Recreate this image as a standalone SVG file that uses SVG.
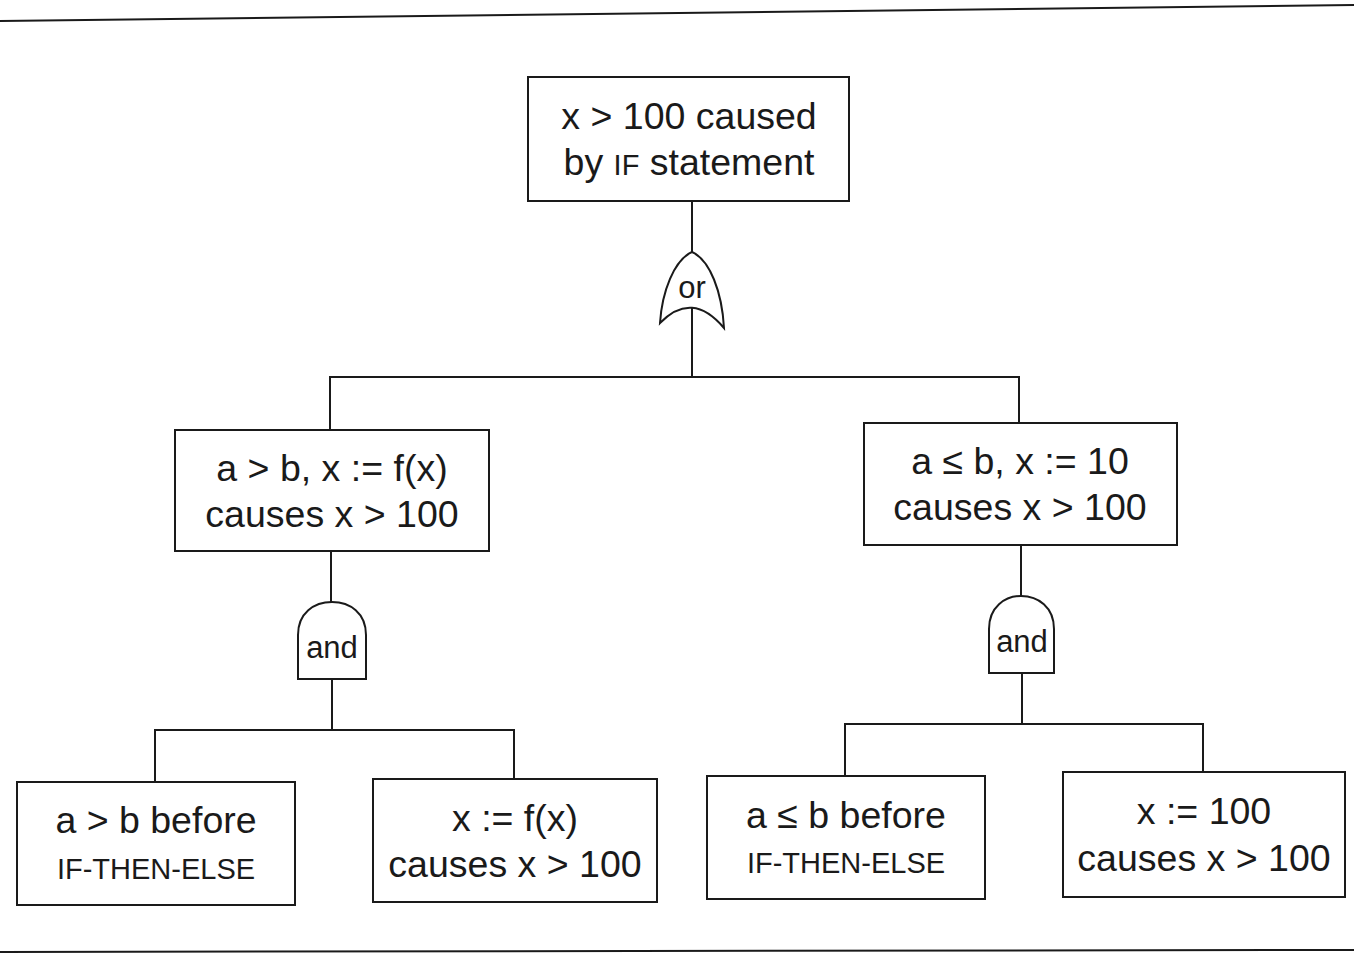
<svg xmlns="http://www.w3.org/2000/svg" width="1354" height="954" viewBox="0 0 1354 954">
<style>
.box{fill:#fff;stroke:#1a1a1a;stroke-width:2}
.gate{fill:#fff;stroke:#1a1a1a;stroke-width:2}
.ln{fill:none;stroke:#1a1a1a;stroke-width:2}
text{font-family:"Liberation Sans",Arial,sans-serif;fill:#1a1a1a;text-anchor:middle}
.t{font-size:37.5px}
.sc{font-size:29px}
.g{font-size:31px}
</style>
<rect width="1354" height="954" fill="#fff"/>
<line class="ln" x1="0" y1="21" x2="1354" y2="5"/>
<line class="ln" x1="0" y1="952" x2="1354" y2="950" stroke-width="1.5"/>
<g id="connectors">
<polyline class="ln" points="692,201 692,252"/>
<polyline class="ln" points="692,308 692,377"/>
<polyline class="ln" points="330,430 330,377 1019,377 1019,423"/>
<polyline class="ln" points="331,551 331,602"/>
<polyline class="ln" points="332,679 332,730"/>
<polyline class="ln" points="155,782 155,730 514,730 514,779"/>
<polyline class="ln" points="1021,545 1021,596"/>
<polyline class="ln" points="1022,673 1022,724"/>
<polyline class="ln" points="845,776 845,724 1203,724 1203,772"/>
</g>
<g id="top">
<rect class="box" x="528" y="77" width="321" height="124"/>
<text class="t" x="689" y="129">x &gt; 100 caused</text>
<text class="t" x="689" y="175">by <tspan class="sc">IF</tspan> statement</text>
</g>
<g id="or-gate">
<path class="gate" d="M692,252 C710,260 722,292 724,328 Q692,290 660,323 C662,292 674,260 692,252 Z"/>
<text class="g" x="692" y="298">or</text>
</g>
<g id="left-mid">
<rect class="box" x="175" y="430" width="314" height="121"/>
<text class="t" x="332" y="481">a &gt; b, x := f(x)</text>
<text class="t" x="332" y="527">causes x &gt; 100</text>
</g>
<g id="right-mid">
<rect class="box" x="864" y="423" width="313" height="122"/>
<text class="t" x="1020" y="474">a ≤ b, x := 10</text>
<text class="t" x="1020" y="520">causes x &gt; 100</text>
</g>
<g id="and-left">
<path class="gate" d="M298,679 L298,635 C298,613 314,602 332,602 C350,602 366,613 366,635 L366,679 Z"/>
<text class="g" x="332" y="658">and</text>
</g>
<g id="and-right">
<path class="gate" d="M989,673 L989,629 C989,607 1005,596 1021,596 C1038,596 1054,607 1054,629 L1054,673 Z"/>
<text class="g" x="1022" y="652">and</text>
</g>
<g id="leaf1">
<rect class="box" x="17" y="782" width="278" height="123"/>
<text class="t" x="156" y="833">a &gt; b before</text>
<text class="sc" x="156" y="879">IF-THEN-ELSE</text>
</g>
<g id="leaf2">
<rect class="box" x="373" y="779" width="284" height="123"/>
<text class="t" x="515" y="831">x := f(x)</text>
<text class="t" x="515" y="877">causes x &gt; 100</text>
</g>
<g id="leaf3">
<rect class="box" x="707" y="776" width="278" height="123"/>
<text class="t" x="846" y="828">a ≤ b before</text>
<text class="sc" x="846" y="873">IF-THEN-ELSE</text>
</g>
<g id="leaf4">
<rect class="box" x="1063" y="772" width="282" height="125"/>
<text class="t" x="1204" y="824">x := 100</text>
<text class="t" x="1204" y="871">causes x &gt; 100</text>
</g>
</svg>
